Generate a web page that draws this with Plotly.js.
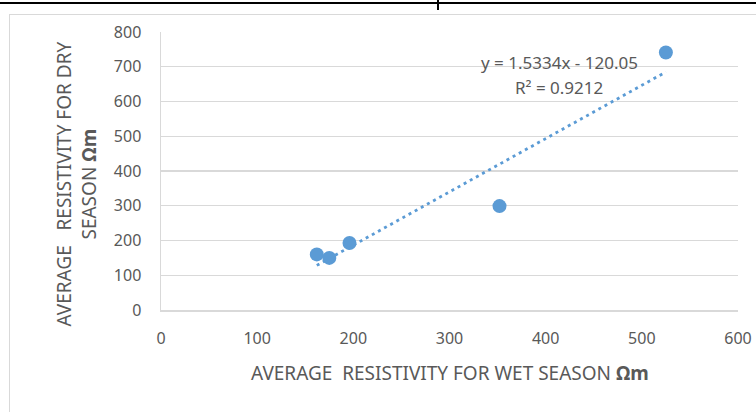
<!DOCTYPE html>
<html>
<head>
<meta charset="utf-8">
<script src="https://cdn.plot.ly/plotly-3.0.1.min.js"></script>
<style>
  html, body { margin: 0; padding: 0; background: #fff; }
  #wrap { position: relative; width: 756px; height: 412px; overflow: hidden; }
  #topline { position: absolute; left: 0; top: 2px; width: 756px; height: 2px; background: #000; }
  #tick { position: absolute; left: 437px; top: 0; width: 2px; height: 10px; background: #000; }
  #frame { position: absolute; left: 9px; top: 14px; width: 760px; height: 420px; border: 1px solid #d9d9d9; box-sizing: border-box; }
  #chart { position: absolute; left: 0; top: 0; width: 756px; height: 412px; }
</style>
</head>
<body>
<div id="wrap">
  <div id="topline"></div>
  <div id="tick"></div>
  <div id="frame"></div>
  <div id="chart"></div>
</div>
<script>
// Data
const wetSeason = [162, 175, 196, 352, 525];
const drySeason = [160, 150, 193, 299, 741];
const trendSlope = 1.5334;
const trendIntercept = -120.05;
const equationText = "y = 1.5334x - 120.05";
const r2Text = "R² = 0.9212";
const xTicks = [0, 100, 200, 300, 400, 500, 600];
const yTicks = [0, 100, 200, 300, 400, 500, 600, 700, 800];
const xTitle = "AVERAGE  RESISTIVITY FOR WET SEASON <b>Ωm</b>";
const yTitle = "AVERAGE   RESISTIVITY FOR DRY<br>SEASON <b>Ωm</b>";

const xMin = Math.min(...wetSeason), xMax = Math.max(...wetSeason);
const trendX = [xMin, xMax];
const trendY = trendX.map(x => trendSlope * x + trendIntercept);

const blue = '#5B9BD5';
const grey = '#595959';
const font = "'Noto Sans', 'Open Sans', sans-serif";

const traces = [
  {
    x: trendX, y: trendY, type: 'scatter', mode: 'lines',
    line: { color: blue, width: 2.8, dash: '3px,4px' }, hoverinfo: 'skip'
  },
  {
    x: wetSeason, y: drySeason, type: 'scatter', mode: 'markers',
    marker: { color: blue, size: 14 }
  }
];

const layout = {
  width: 756, height: 412,
  paper_bgcolor: 'rgba(0,0,0,0)', plot_bgcolor: 'rgba(0,0,0,0)',
  showlegend: false,
  margin: { l: 161, r: 18, t: 32, b: 102 },
  font: { family: font, color: grey, size: 16 },
  xaxis: {
    range: [0, 600], tickvals: xTicks, ticktext: xTicks.map(String),
    showgrid: false, zeroline: false, showline: true, linecolor: '#d9d9d9', linewidth: 1.5,
    ticks: 'outside', ticklen: 13, tickcolor: 'rgba(0,0,0,0)', tickfont: { size: 16, color: grey }
  },
  yaxis: {
    range: [0, 800], tickvals: yTicks, ticktext: yTicks.map(String),
    showgrid: true, gridcolor: '#d9d9d9', gridwidth: 1.3, zeroline: false,
    showline: true, linecolor: '#d9d9d9', linewidth: 1.5,
    ticks: 'outside', ticklen: 15, tickcolor: 'rgba(0,0,0,0)', tickfont: { size: 16, color: grey }
  },
  annotations: [
    { x: 0.69, y: 0.892, xref: 'paper', yref: 'paper', text: equationText, showarrow: false,
      font: { size: 17, color: grey }, xanchor: 'center', yanchor: 'middle' },
    { x: 0.69, y: 0.802, xref: 'paper', yref: 'paper', text: r2Text, showarrow: false,
      font: { size: 17, color: grey }, xanchor: 'center', yanchor: 'middle' },
    { x: 0.5, y: -0.228, xref: 'paper', yref: 'paper', text: xTitle, showarrow: false,
      font: { size: 19, color: grey }, xanchor: 'center', yanchor: 'middle' },
    { x: -0.1464, y: 0.453, xref: 'paper', yref: 'paper', text: yTitle, showarrow: false,
      textangle: -90, font: { size: 19, color: grey }, xanchor: 'center', yanchor: 'middle' }
  ]
};

Plotly.newPlot('chart', traces, layout, { displayModeBar: false, staticPlot: true });
</script>
</body>
</html>
